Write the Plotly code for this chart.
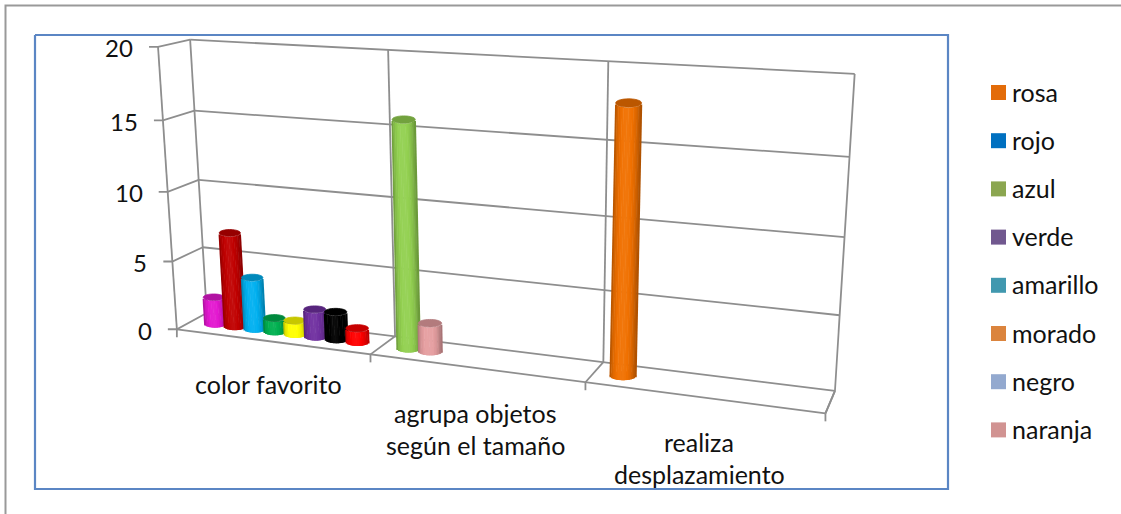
import numpy as np
import plotly.graph_objects as go

# Chart content
categories = [["color favorito"], ["agrupa objetos", "según el tamaño"], ["realiza", "desplazamiento"]]
color_favorito_values = [2, 6.9, 3.8, 1, 1, 2, 2, 1]
color_favorito_colors = ["#E317D0", "#C00000", "#00B0F0", "#00B050", "#FFFF00", "#7030A0", "#000000", "#FF0000"]
agrupa_values = [15.8, 2]
agrupa_colors = ["#92D050", "#E59EA0"]
desplazamiento_values = [17.8]
desplazamiento_colors = ["#F07000"]
value_ticks = [0, 5, 10, 15, 20]
legend_names = ["rosa", "rojo", "azul", "verde", "amarillo", "morado", "negro", "naranja"]
legend_colors = ["#E36C09", "#0070C0", "#8BA650", "#71588F", "#4198AF", "#DB843D", "#93A9CF", "#D19392"]

FONT = "Lato"
FONT_SIZE = 25
TICK_FONT_SIZE = 24
GRID = "#8E8E8E"

# Perspective camera fitted on the box corners: (category, depth, value) -> page pixels
view_anchors = [
    ((0, 0, 0), (176, 330)), ((1, 0, 0), (371, 353)), ((2, 0, 0), (586, 383)), ((3, 0, 0), (825, 413)),
    ((0, 1, 0), (207, 313)), ((1, 1, 0), (395, 336)), ((2, 1, 0), (603, 363)), ((3, 1, 0), (835, 391)),
    ((0, 1, 20), (190, 39)), ((1, 1, 20), (388, 51)), ((2, 1, 20), (608, 63)), ((3, 1, 20), (855, 72)),
    ((0, 0, 20), (158, 47)), ((0, 0, 10), (168, 192)), ((0, 1, 10), (199, 179)),
]
rows, rhs = [], []
for (a, b, c), (u, v) in view_anchors:
    rows.append([a, b, c, 1, 0, 0, 0, 0, -u * a, -u * b, -u * c]); rhs.append(u)
    rows.append([0, 0, 0, 0, a, b, c, 1, -v * a, -v * b, -v * c]); rhs.append(v)
camera = np.append(np.linalg.lstsq(np.array(rows, float), np.array(rhs, float), rcond=None)[0], 1).reshape(3, 4)


def project(cat, depth, value):
    h = camera @ np.array([cat, depth, value, 1.0])
    return h[0] / h[2], h[1] / h[2]


def shade(color, k):
    r, g, b = (int(color[i:i + 2], 16) for i in (1, 3, 5))
    if k <= 1:
        return f"rgb({r * k:.0f},{g * k:.0f},{b * k:.0f})"
    t = k - 1
    return f"rgb({r + (255 - r) * t:.0f},{g + (255 - g) * t:.0f},{b + (255 - b) * t:.0f})"


fig = go.Figure()


def polyline(points, color=GRID, width=1.8):
    xs, ys = zip(*points)
    fig.add_trace(go.Scatter(x=xs, y=ys, mode="lines", line=dict(color=color, width=width, simplify=False),
                             hoverinfo="skip"))


def ellipse(cx, cy, half, rise, color):
    ring = np.linspace(0, 2 * np.pi, 40)
    fig.add_trace(go.Scatter(x=cx + (half - 0.4) * np.cos(ring), y=cy + (rise - 0.4) * np.sin(ring), mode="lines",
                             fill="toself", fillcolor=color, line=dict(width=0.8, color=color, simplify=False),
                             hoverinfo="skip"))


# Outer page rule and chart border
polyline([(5.5, 514), (5.5, 5.5), (1121, 5.5)], "#999999", 2)
polyline([(35, 35), (948, 35), (948, 489), (35, 489), (35, 35)], "#5B86C4", 2.2)

# Walls and floor of the 3D box
for v in value_ticks:
    polyline([project(0, 1, v), project(3, 1, v)])
    front = project(0, 0, v)
    polyline([(front[0] - 9, front[1]), front, project(0, 1, v)])
polyline([project(0, 0, 0), project(0, 0, 20)])
polyline([project(3, 0, 0), project(3, 1, 0)])
polyline([project(0, 0, 0), project(3, 0, 0)])
for c in range(4):
    polyline([project(c, 1, 0), project(c, 1, 20)])
    if c > 0:
        polyline([project(c, 1, 0), project(c, 0, 0)])
    base = project(c, 0, 0)
    polyline([base, (base[0], base[1] + 8)])

# Cylinders, left to right so each one overlaps its left neighbour
groups = [(color_favorito_values, color_favorito_colors),
          (agrupa_values, agrupa_colors),
          (desplazamiento_values, desplazamiento_colors)]
FIRST_SLOT, SLOT_STEP, RADIUS, DEPTH = 0.127, 0.1065, 0.059, 0.5
ELLIPSE_RATIO = 0.34
SHADE_AT = [-1, -0.8, -0.4, 0, 0.3, 0.6, 1]
SHADE_K = [0.72, 0.9, 1.03, 1.05, 1.0, 0.92, 0.7]
for cat, (values, colors) in enumerate(groups):
    for slot, (value, color) in enumerate(zip(values, colors)):
        cx = cat + FIRST_SLOT + SLOT_STEP * slot
        bx, by = project(cx, DEPTH, 0)
        tx, ty = project(cx, DEPTH, value)
        half = (project(cx + RADIUS, DEPTH, 0)[0] - project(cx - RADIUS, DEPTH, 0)[0]) / 2
        rise = half * ELLIPSE_RATIO
        ellipse(bx, by, half, rise, shade(color, 0.9))
        # Body as adjacent vertical strokes, each slightly wider than its slot to close the gaps
        strips = int(2 * half / 1.6)
        step = 2 / strips
        for u in np.linspace(-1 + step / 2, 1 - step / 2, strips):
            drop = rise * np.sqrt(1 - u * u)
            k = float(np.interp(u, SHADE_AT, SHADE_K))
            polyline([(tx + half * u, ty + drop), (bx + half * u, by + drop)], shade(color, k), half * step + 0.5)
        ellipse(tx, ty, half, rise, shade(color, 0.78))

# Value labels beside the ticks
annotations = []
for v in value_ticks:
    px, py = project(0, 0, v)
    annotations.append(dict(x=px - 23, y=py + 1, text=str(v), xanchor="right", yanchor="middle", showarrow=False,
                            font=dict(size=TICK_FONT_SIZE)))

# Category labels, one annotation per line
label_centers = [(268, 384), (475, 413), (699, 442)]
for lines, (lx, ly) in zip(categories, label_centers):
    for n, line in enumerate(lines):
        annotations.append(dict(x=lx, y=ly + n * 31.5, text=line, xanchor="center", yanchor="middle", showarrow=False))

# Legend column
LEGEND_X, LEGEND_TOP, LEGEND_STEP = 998.5, 92.5, 48.2
for i, (name, color) in enumerate(zip(legend_names, legend_colors)):
    fig.add_trace(go.Scatter(x=[LEGEND_X], y=[LEGEND_TOP + i * LEGEND_STEP], mode="markers",
                             marker=dict(symbol="square", size=15, color=color), hoverinfo="skip"))
    annotations.append(dict(x=LEGEND_X + 11, y=LEGEND_TOP + i * LEGEND_STEP - 1, text=name, xanchor="left",
                            yanchor="middle", showarrow=False))

fig.update_layout(
    width=1121, height=514, margin=dict(l=0, r=0, t=0, b=0), showlegend=False,
    paper_bgcolor="white", plot_bgcolor="white",
    font=dict(family=FONT, size=FONT_SIZE, color="#111111"),
    xaxis=dict(range=[0, 1121], visible=False, fixedrange=True),
    yaxis=dict(range=[514, 0], visible=False, fixedrange=True),
    annotations=annotations,
)
fig.write_html("out.html", config=dict(displayModeBar=False))
